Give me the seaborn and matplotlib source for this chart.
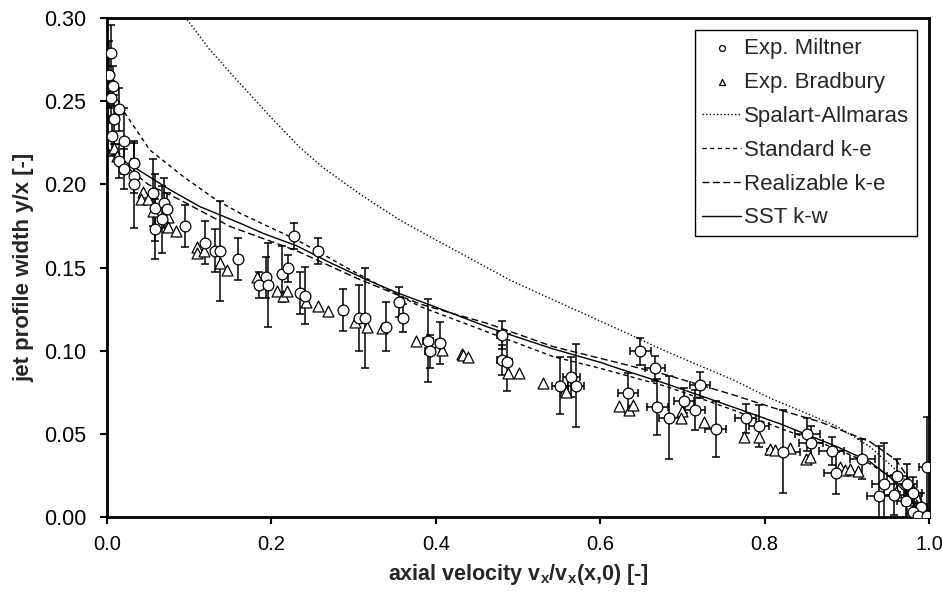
import pandas as pd
import seaborn as sns
import matplotlib.pyplot as plt
from matplotlib import font_manager

# --- experimental data: Miltner (circles, with error bars) ---
miltner_x = [0.0045, 0.002, 0.007, 0.005, 0.015, 0.0085, 0.006, 0.021, 0.015, 0.033,
             0.021, 0.033, 0.033, 0.056, 0.059, 0.069, 0.073, 0.067, 0.059, 0.095,
             0.119, 0.131, 0.138, 0.159, 0.228, 0.257, 0.193, 0.185, 0.196, 0.2125,
             0.2205, 0.235, 0.241, 0.2875, 0.307, 0.314, 0.340, 0.355, 0.3605, 0.391,
             0.393, 0.405, 0.480, 0.481, 0.487, 0.551, 0.565, 0.5705, 0.649, 0.6665,
             0.634, 0.6695, 0.684, 0.702, 0.7214, 0.7153, 0.7405, 0.777, 0.793, 0.8228,
             0.852, 0.8564, 0.8816, 0.887, 0.919, 0.939, 0.9457, 0.9607, 0.957, 0.9736,
             0.981, 0.9716, 0.990, 0.981, 0.987, 0.998, 0.998]
miltner_y = [0.279, 0.266, 0.259, 0.252, 0.245, 0.239, 0.229, 0.226, 0.214, 0.213,
             0.209, 0.205, 0.200, 0.195, 0.186, 0.189, 0.185, 0.179, 0.173, 0.175,
             0.165, 0.160, 0.160, 0.155, 0.169, 0.160, 0.144, 0.1395, 0.1395, 0.146,
             0.1495, 0.1345, 0.133, 0.1245, 0.1195, 0.1195, 0.1145, 0.1295, 0.1195, 0.106,
             0.0995, 0.1045, 0.1095, 0.0945, 0.093, 0.079, 0.084, 0.079, 0.0995, 0.0895,
             0.0745, 0.066, 0.0597, 0.0698, 0.0794, 0.0643, 0.0529, 0.0593, 0.0547, 0.0393,
             0.0497, 0.0447, 0.0397, 0.0263, 0.0347, 0.0128, 0.0197, 0.0248, 0.0132, 0.0198,
             0.0142, 0.0098, 0.0062, 0.003, 0.0005, 0.0005, 0.030]
miltner_yerr = [0.017, 0.02, 0.012, 0.015, 0.013, 0.015, 0.012, 0.02, 0.01, 0.012,
                0.012, 0.01, 0.026, 0.02, 0.02, 0.015, 0.01, 0.02, 0.018, 0.0125,
                0.013, 0.013, 0.03, 0.0125, 0.008, 0.008, 0.0125, 0.008, 0.025, 0.017,
                0.008, 0.0125, 0.017, 0.0125, 0.02, 0.03, 0.015, 0.009, 0.0085, 0.025,
                0.01, 0.0125, 0.0085, 0.009, 0.017, 0.017, 0.012, 0.025, 0.008, 0.0075,
                0.012, 0.017, 0.025, 0.0075, 0.008, 0.012, 0.017, 0.0085, 0.0125, 0.025,
                0.01, 0.01, 0.0083, 0.0125, 0.012, 0.03, 0.025, 0.01, 0.012, 0.012,
                0.01, 0.01, 0.008, 0.006, 0.004, 0.004, 0.03]
miltner_xerr = [0, 0, 0, 0, 0, 0, 0, 0, 0, 0,
                0, 0, 0, 0, 0, 0, 0, 0, 0, 0,
                0, 0, 0, 0, 0, 0, 0, 0, 0, 0,
                0, 0, 0, 0, 0, 0, 0, 0, 0, 0.006,
                0.006, 0.005, 0.006, 0.006, 0.006, 0.01, 0.01, 0.01, 0.0125, 0.0125,
                0.0125, 0.0125, 0.0125, 0.0125, 0.0125, 0.0125, 0.0125, 0.0125, 0.0125, 0.02,
                0.015, 0.015, 0.015, 0.015, 0.015, 0.015, 0.015, 0.012, 0.012, 0.012,
                0.01, 0.01, 0.008, 0.008, 0.005, 0.0, 0.01]

# --- experimental data: Bradbury (triangles) ---
bradbury_x = [0.008, 0.012, 0.044, 0.041, 0.050, 0.056, 0.0746, 0.0746, 0.084, 0.109,
              0.110, 0.118, 0.138, 0.1456, 0.182, 0.2064, 0.2137, 0.219, 0.242, 0.2563,
              0.2685, 0.3017, 0.316, 0.334, 0.376, 0.407, 0.4315, 0.4335, 0.4396, 0.488,
              0.5016, 0.531, 0.5572, 0.559, 0.6233, 0.6354, 0.640, 0.699, 0.698, 0.726,
              0.775, 0.793, 0.807, 0.813, 0.831, 0.850, 0.855, 0.8917, 0.898, 0.904,
              0.914, 0.960, 0.975, 0.985]
bradbury_y = [0.222, 0.217, 0.1956, 0.191, 0.191, 0.184, 0.1806, 0.1746, 0.172, 0.1625,
              0.1585, 0.160, 0.153, 0.1485, 0.1445, 0.136, 0.133, 0.136, 0.1295, 0.127,
              0.124, 0.1175, 0.1145, 0.1135, 0.106, 0.1004, 0.098, 0.0974, 0.096, 0.0868,
              0.0864, 0.0804, 0.0764, 0.0753, 0.0667, 0.0643, 0.0673, 0.0639, 0.0593, 0.0569,
              0.0483, 0.0483, 0.0409, 0.040, 0.0413, 0.0347, 0.0363, 0.0299, 0.028, 0.029,
              0.0278, 0.015, 0.010, 0.006]

# --- simulations ---
sa_x = [0.085, 0.0977, 0.125, 0.154, 0.2, 0.235, 0.263, 0.312, 0.356, 0.393,
        0.49, 0.543, 0.624, 0.681, 0.762, 0.807, 0.85, 0.888, 0.928, 0.96, 0.985, 1.0]
sa_y = [0.308, 0.2989, 0.281, 0.2648, 0.24, 0.222, 0.21, 0.1927, 0.1786, 0.1685,
        0.1425, 0.1305, 0.1124, 0.0994, 0.0824, 0.0714, 0.0625, 0.0545, 0.0423, 0.0283,
        0.0142, 0.003]

ske_x = [0.0, 0.016, 0.022, 0.052, 0.093, 0.133, 0.162, 0.231, 0.304, 0.381,
         0.462, 0.543, 0.6, 0.681, 0.762, 0.819, 0.888, 0.928, 0.96, 0.985, 1.0]
ske_y = [0.258, 0.249, 0.2427, 0.2207, 0.2046, 0.1906, 0.1826, 0.1666, 0.1465, 0.1265,
         0.1114, 0.0964, 0.0894, 0.0784, 0.0643, 0.0533, 0.041, 0.032, 0.022, 0.010, 0.0]

rke_x = [0.0, 0.01, 0.05, 0.089, 0.15, 0.231, 0.304, 0.381, 0.462, 0.543,
         0.6, 0.681, 0.762, 0.819, 0.867, 0.928, 0.96, 0.985, 1.0]
rke_y = [0.222, 0.216, 0.2, 0.1906, 0.1746, 0.160, 0.1435, 0.128, 0.1165, 0.1024,
         0.0954, 0.0854, 0.0734, 0.0643, 0.0573, 0.0453, 0.0343, 0.0162, 0.0]

sst_x = [0.0, 0.01, 0.032, 0.077, 0.113, 0.162, 0.19, 0.231, 0.271, 0.312,
         0.352, 0.393, 0.462, 0.5, 0.543, 0.6, 0.624, 0.681, 0.762, 0.819,
         0.888, 0.928, 0.952, 0.977, 0.993, 1.0]
sst_y = [0.222, 0.217, 0.2106, 0.1966, 0.1866, 0.1766, 0.1705, 0.163, 0.153, 0.1435,
         0.135, 0.1275, 0.1144, 0.108, 0.101, 0.093, 0.089, 0.080, 0.066, 0.056,
         0.0423, 0.0333, 0.0242, 0.0122, 0.0024, 0.0]

x_ticks = [0.0, 0.2, 0.4, 0.6, 0.8, 1.0]
y_ticks = [0.0, 0.05, 0.10, 0.15, 0.20, 0.25, 0.30]

miltner = pd.DataFrame({'x': miltner_x, 'y': miltner_y,
                        'yerr': miltner_yerr, 'xerr': miltner_xerr})
bradbury = pd.DataFrame({'x': bradbury_x, 'y': bradbury_y})

sns.set_style('ticks')
plt.rcParams['font.family'] = ['Liberation Sans', 'DejaVu Sans']
plt.rcParams['mathtext.fontset'] = 'custom'
plt.rcParams['mathtext.bf'] = 'Liberation Sans:bold'
plt.rcParams['mathtext.rm'] = 'Liberation Sans'

installed = {f.name for f in font_manager.fontManager.ttflist}
narrow = 'Liberation Sans Narrow' if 'Liberation Sans Narrow' in installed else 'Liberation Sans'

fig = plt.figure(figsize=(9.42, 5.95), dpi=100)
ax = fig.add_axes([107 / 942, 1 - 517 / 595, 822 / 942, 499 / 595])

ax.errorbar(miltner['x'], miltner['y'], yerr=miltner['yerr'], xerr=miltner['xerr'],
            fmt='none', ecolor='black', elinewidth=1.1, capsize=3, capthick=1.1, zorder=2)

line_kw = dict(color='black', lw=1.0, estimator=None, sort=False, ax=ax, zorder=3)
sns.lineplot(x=sa_x, y=sa_y, linestyle=(0, (1, 1.6)), label='Spalart-Allmaras', **line_kw)
sns.lineplot(x=ske_x, y=ske_y, linestyle=(0, (3, 2.5)), label='Standard k-e', **line_kw)
sns.lineplot(x=rke_x, y=rke_y, linestyle=(0, (5, 2.5)), label='Realizable k-e', **line_kw)
sns.lineplot(x=sst_x, y=sst_y, linestyle='-', label='SST k-w', **line_kw)

sns.scatterplot(data=bradbury, x='x', y='y', marker='^', s=62, color='white',
                edgecolor='black', linewidth=0.9, label='Exp. Bradbury', ax=ax, zorder=4)
sns.scatterplot(data=miltner, x='x', y='y', marker='o', s=60, color='white',
                edgecolor='black', linewidth=0.9, label='Exp. Miltner', ax=ax, zorder=5)

ax.set_xlim(0, 1.0)
ax.set_ylim(0, 0.30)
ax.set_xticks(x_ticks)
ax.set_xticklabels([f'{t:.1f}' for t in x_ticks], fontsize=14.5, family=narrow)
ax.set_yticks(y_ticks)
ax.set_yticklabels([f'{t:.2f}' for t in y_ticks], fontsize=15.5)
ax.tick_params(axis='x', direction='out', length=5, width=1.5, colors='black', pad=8)
ax.tick_params(axis='y', direction='out', length=5, width=1.5, colors='black', pad=10)
for s in ax.spines.values():
    s.set_visible(True)
    s.set_linewidth(2.0)
    s.set_color('black')

ax.set_xlabel(r'axial velocity $\mathbf{v_x}$/$\mathbf{v_x}$(x,0) [-]',
              fontsize=15.5, fontweight='bold', labelpad=6)
ax.set_ylabel('jet profile width y/x [-]', fontsize=16, fontweight='bold', labelpad=7)

handles, labels = ax.get_legend_handles_labels()
order = ['Exp. Miltner', 'Exp. Bradbury', 'Spalart-Allmaras', 'Standard k-e',
         'Realizable k-e', 'SST k-w']
hmap = dict(zip(labels, handles))
leg = ax.legend([hmap[k] for k in order], order, loc='upper right', fontsize=16,
                frameon=True, fancybox=False, edgecolor='black', framealpha=1,
                borderaxespad=0.55, handlelength=1.75, handletextpad=0.12,
                labelspacing=0.58, borderpad=0.35, markerscale=0.55)
leg.get_frame().set_linewidth(1.0)

plt.savefig('out.png', dpi=100)
plt.close('all')
